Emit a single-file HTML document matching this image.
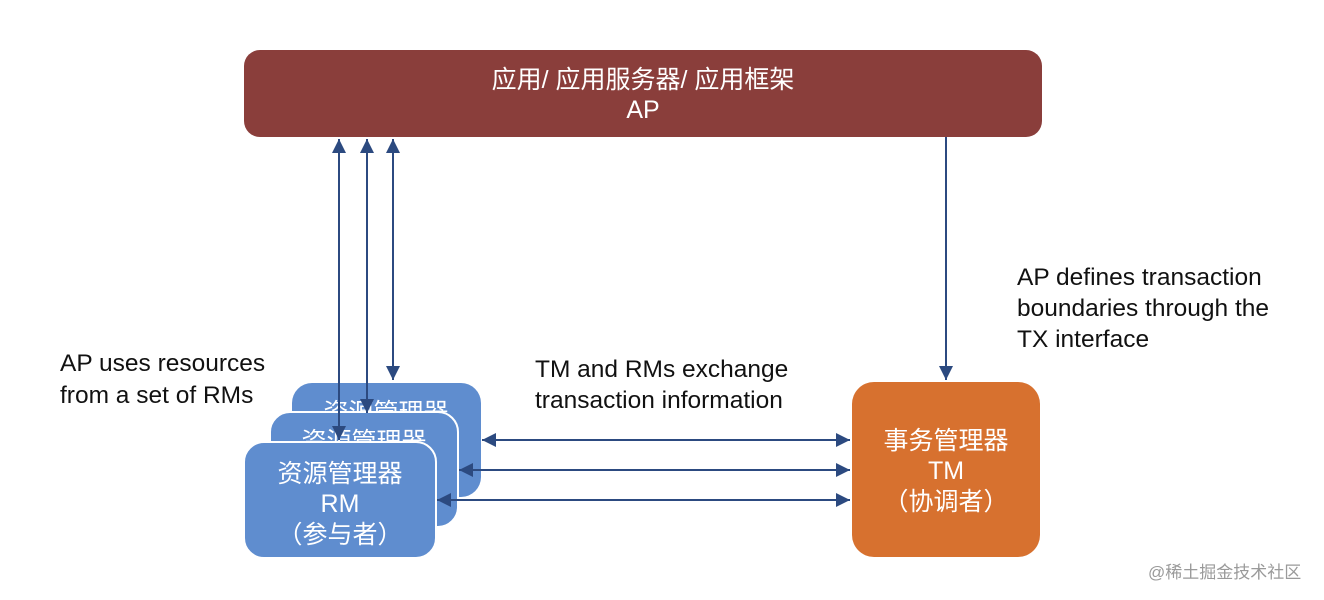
<!DOCTYPE html>
<html><head><meta charset="utf-8"><style>
html,body{margin:0;padding:0;background:#fff;}
svg{display:block;}
text{font-family:"Liberation Sans","Noto Sans CJK SC",sans-serif;}
</style></head><body>
<svg width="1324" height="600" viewBox="0 0 1324 600" xmlns="http://www.w3.org/2000/svg">
<defs>
<marker id="a" viewBox="0 0 10 10" refX="10" refY="5" markerWidth="7" markerHeight="7" orient="auto-start-reverse">
<path d="M0,0 L10,5 L0,10 z" fill="#2C4A80"/></marker>
</defs>
<rect x="244" y="50" width="798" height="87" rx="16" fill="#8A3E3B"/>
<text x="643" y="88" font-size="25" fill="#fff" text-anchor="middle">应用/ 应用服务器/ 应用框架</text>
<text x="643" y="118" font-size="25" fill="#fff" text-anchor="middle">AP</text>

<rect x="292" y="383" width="189" height="114" rx="20" fill="#5F8DCF"/>
<text x="386" y="421" font-size="25" fill="#fff" text-anchor="middle">资源管理器</text>
<rect x="270" y="412" width="188" height="115" rx="20" fill="#5F8DCF" stroke="#fff" stroke-width="2"/>
<text x="364" y="450" font-size="25" fill="#fff" text-anchor="middle">资源管理器</text>
<rect x="244" y="442" width="192" height="116" rx="20" fill="#5F8DCF" stroke="#fff" stroke-width="2"/>
<text x="340" y="482" font-size="25" fill="#fff" text-anchor="middle">资源管理器</text>
<text x="340" y="512" font-size="25" fill="#fff" text-anchor="middle">RM</text>
<text x="340" y="543" font-size="25" fill="#fff" text-anchor="middle">（参与者）</text>

<rect x="852" y="382" width="188" height="175" rx="22" fill="#D7712F"/>
<text x="946" y="449" font-size="25" fill="#fff" text-anchor="middle">事务管理器</text>
<text x="946" y="479" font-size="25" fill="#fff" text-anchor="middle">TM</text>
<text x="946" y="510" font-size="25" fill="#fff" text-anchor="middle">（协调者）</text>

<g stroke="#2C4A80" stroke-width="2" fill="none" marker-start="url(#a)" marker-end="url(#a)">
<line x1="339" y1="139" x2="339" y2="440"/>
<line x1="367" y1="139" x2="367" y2="413"/>
<line x1="393" y1="139" x2="393" y2="380"/>
<line x1="482" y1="440" x2="850" y2="440"/>
<line x1="459" y1="470" x2="850" y2="470"/>
<line x1="437" y1="500" x2="850" y2="500"/>
</g>
<line x1="946" y1="137" x2="946" y2="380" stroke="#2C4A80" stroke-width="2" marker-end="url(#a)"/>

<g font-size="24.5" fill="#111">
<text x="60" y="371">AP uses resources</text>
<text x="60" y="403">from a set of RMs</text>
<text x="535" y="377">TM and RMs exchange</text>
<text x="535" y="408">transaction information</text>
<text x="1017" y="285">AP defines transaction</text>
<text x="1017" y="316">boundaries through the</text>
<text x="1017" y="347">TX interface</text>
</g>
<text x="1148" y="578" font-size="17" fill="#9a9a9a">@稀土掘金技术社区</text>
</svg>
</body></html>
